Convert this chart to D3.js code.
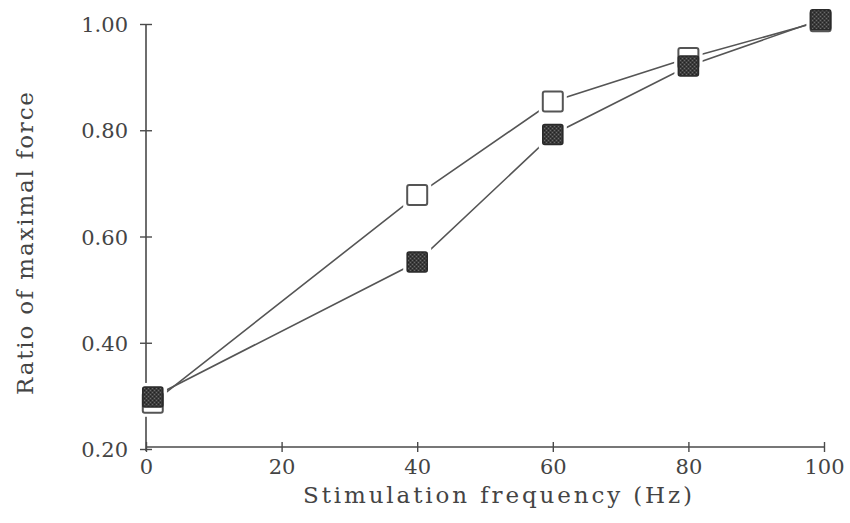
<!DOCTYPE html>
<html><head><meta charset="utf-8">
<script src="https://cdn.jsdelivr.net/npm/d3@7"></script>
<style>body{margin:0;background:#fff}svg{display:block}</style>
</head><body>
<svg id="c" width="850" height="523"></svg>
<script>
const freq = [1, 40, 60, 80, 99.5];
const openVals = [0.287, 0.678, 0.854, 0.936, 1.005];
const filledVals = [0.298, 0.552, 0.792, 0.921, 1.008];
const xTicks = [0, 20, 40, 60, 80, 100];
const yTicks = [0.20, 0.40, 0.60, 0.80, 1.00];
const xTitle = "Stimulation frequency (Hz)";
const yTitle = "Ratio of maximal force";

const svg = d3.select("#c");
const x = d3.scaleLinear().domain([0, 100]).range([146, 824]);
const y = d3.scaleLinear().domain([0.2, 1.0]).range([449, 24]);
const ink = "#4a4a4a";
const font = "'DejaVu Serif', serif";

const defs = svg.append("defs");
const pat = defs.append("pattern").attr("id", "stip").attr("width", 4).attr("height", 4).attr("patternUnits", "userSpaceOnUse");
pat.append("rect").attr("width", 4).attr("height", 4).attr("fill", "#3c3c3c");
pat.append("rect").attr("x", 0).attr("y", 0).attr("width", 1).attr("height", 1).attr("fill", "#6a6a6a");
pat.append("rect").attr("x", 2).attr("y", 2).attr("width", 1).attr("height", 1).attr("fill", "#6a6a6a");
pat.append("rect").attr("x", 2).attr("y", 0).attr("width", 1).attr("height", 1).attr("fill", "#222");
pat.append("rect").attr("x", 0).attr("y", 2).attr("width", 1).attr("height", 1).attr("fill", "#222");

// Axes
const xAxis = svg.append("g").attr("transform", "translate(0,447)")
  .call(d3.axisBottom(x).tickValues(xTicks).tickFormat(d3.format("d")).tickSize(0).tickPadding(0));
xAxis.select(".domain").attr("stroke", ink).attr("stroke-width", 1.6).attr("d", `M${x(0)},0H${x(100)}`);
xAxis.selectAll(".tick line").attr("y1", -5).attr("y2", 5).attr("stroke", ink).attr("stroke-width", 1.4);
xAxis.selectAll(".tick text").attr("y", 12).attr("dy", "0.71em").attr("font-family", font).attr("font-size", 21).attr("fill", "#444");

const yAxis = svg.append("g").attr("transform", "translate(146,0)")
  .call(d3.axisLeft(y).tickValues(yTicks).tickFormat(d3.format(".2f")).tickSize(0).tickPadding(0));
yAxis.select(".domain").attr("stroke", ink).attr("stroke-width", 1.6).attr("d", `M0,${y(0.2)+2}V${y(1)}`);
yAxis.selectAll(".tick line").attr("x1", -6).attr("x2", 6).attr("stroke", ink).attr("stroke-width", 1.4);
yAxis.selectAll(".tick text").attr("x", -18).attr("dy", "0.36em").attr("font-family", font).attr("font-size", 21).attr("fill", "#444");
svg.selectAll(".domain").attr("fill", "none");

// Titles
svg.append("text").attr("x", 303).attr("y", 503).attr("font-family", font).attr("font-size", 23).attr("fill", "#444")
  .attr("textLength", 389).attr("lengthAdjust", "spacing").text(xTitle);
svg.append("text").attr("transform", "translate(33,395) rotate(-90)").attr("font-family", font).attr("font-size", 23).attr("fill", "#444")
  .attr("textLength", 303).attr("lengthAdjust", "spacing").text(yTitle);

// Lines
const lineOf = vals => d3.line().x((d, i) => x(freq[i])).y(d => y(d))(vals);
svg.append("path").attr("d", lineOf(openVals)).attr("fill", "none").attr("stroke", "#555").attr("stroke-width", 1.6);
svg.append("path").attr("d", lineOf(filledVals)).attr("fill", "none").attr("stroke", "#555").attr("stroke-width", 1.6);

const S = 20;
// white halos so lines stop short of markers
[openVals, filledVals].forEach(vals => {
  svg.append("g").selectAll("rect").data(vals).join("rect")
    .attr("x", (d, i) => x(freq[i]) - S/2 - 4).attr("y", d => y(d) - S/2 - 4)
    .attr("width", S + 8).attr("height", S + 8).attr("fill", "#fff");
});
svg.append("g").selectAll("rect").data(openVals).join("rect")
  .attr("x", (d, i) => x(freq[i]) - S/2).attr("y", d => y(d) - S/2)
  .attr("width", S).attr("height", S).attr("rx", 2)
  .attr("fill", "#fff").attr("stroke", "#555").attr("stroke-width", 2);
svg.append("g").selectAll("rect").data(filledVals).join("rect")
  .attr("x", (d, i) => x(freq[i]) - S/2).attr("y", d => y(d) - S/2)
  .attr("width", S).attr("height", S).attr("rx", 2)
  .attr("fill", "url(#stip)").attr("stroke", "#2a2a2a").attr("stroke-width", 1.6);
</script>
</body></html>
